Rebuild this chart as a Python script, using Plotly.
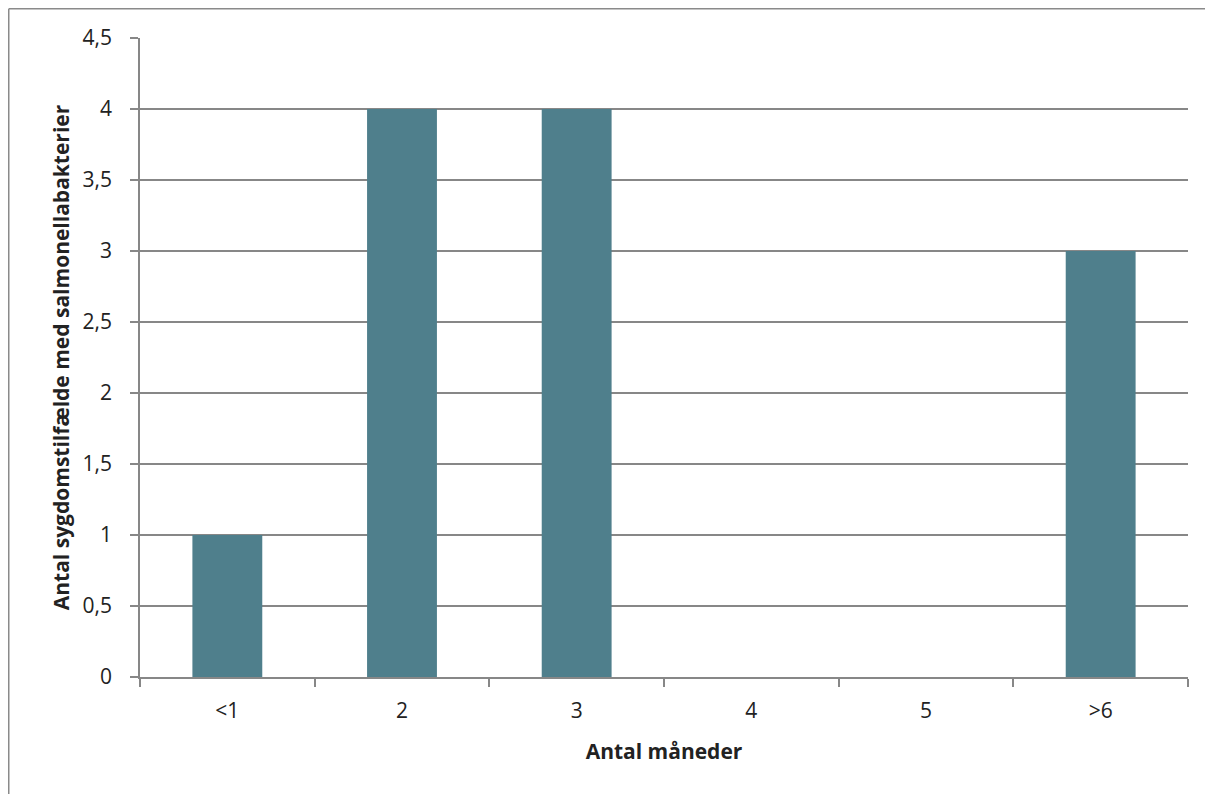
import plotly.graph_objects as go

categories = ["<1", "2", "3", "4", "5", ">6"]
values = [1, 4, 4, 0, 0, 3]

bar_color = "#4F7F8C"
grid_color = "#878787"

fig = go.Figure()
fig.add_trace(go.Bar(x=categories, y=values, marker=dict(color=bar_color, line=dict(width=0)), width=0.4))

# page body has an 8px margin; the figure is offset by it
OFF = 8
W, H = 1205, 786
ml, mt = 140 - OFF, 38 - OFF
pw, ph = 1048, 639
mr = W - ml - pw
mb = H - mt - ph

def px_to_paper_x(px):
    return (px - OFF - ml) / pw

def px_to_paper_y(py):
    return (mt + ph - (py - OFF)) / ph

border = dict(color="#8a8a8a", width=1.5)
bx, by = 8.75, 8.75

fig.update_layout(
    width=W, height=H,
    margin=dict(l=ml, r=mr, t=mt, b=mb, pad=0),
    paper_bgcolor="white", plot_bgcolor="white",
    separators=",.",
    showlegend=False,
    font=dict(family="Open Sans, Liberation Sans, sans-serif", size=21, color="#222222"),
    xaxis=dict(
        type="category", tickson="boundaries",
        ticks="outside", ticklen=8, tickcolor=grid_color, tickwidth=1.5,
        showline=True, linecolor=grid_color, linewidth=1.5,
        showgrid=False, range=[-0.5, 5.5],
        tickfont=dict(size=21), ticklabelstandoff=14,
        title=dict(text="<b>Antal måneder</b>", font=dict(size=21), standoff=21),
    ),
    yaxis=dict(
        range=[0, 4.5], dtick=0.5, tick0=0,
        ticks="outside", ticklen=8, tickcolor=grid_color, tickwidth=1.5,
        showline=True, linecolor=grid_color, linewidth=1.5,
        showgrid=True, gridcolor=grid_color, gridwidth=1.5,
        zeroline=False,
        tickfont=dict(size=21), ticklabelstandoff=14,
        title=dict(text="<b>Antal sygdomstilfælde med salmonellabakterier</b>", font=dict(size=21), standoff=7),
    ),
    shapes=[
        dict(type="line", xref="paper", yref="paper",
             x0=px_to_paper_x(bx), x1=px_to_paper_x(1240),
             y0=px_to_paper_y(by), y1=px_to_paper_y(by),
             line=border, layer="below"),
        dict(type="line", xref="paper", yref="paper",
             x0=px_to_paper_x(bx), x1=px_to_paper_x(bx),
             y0=px_to_paper_y(by), y1=px_to_paper_y(820),
             line=border, layer="below"),
    ],
)

fig.write_html("out.html")
